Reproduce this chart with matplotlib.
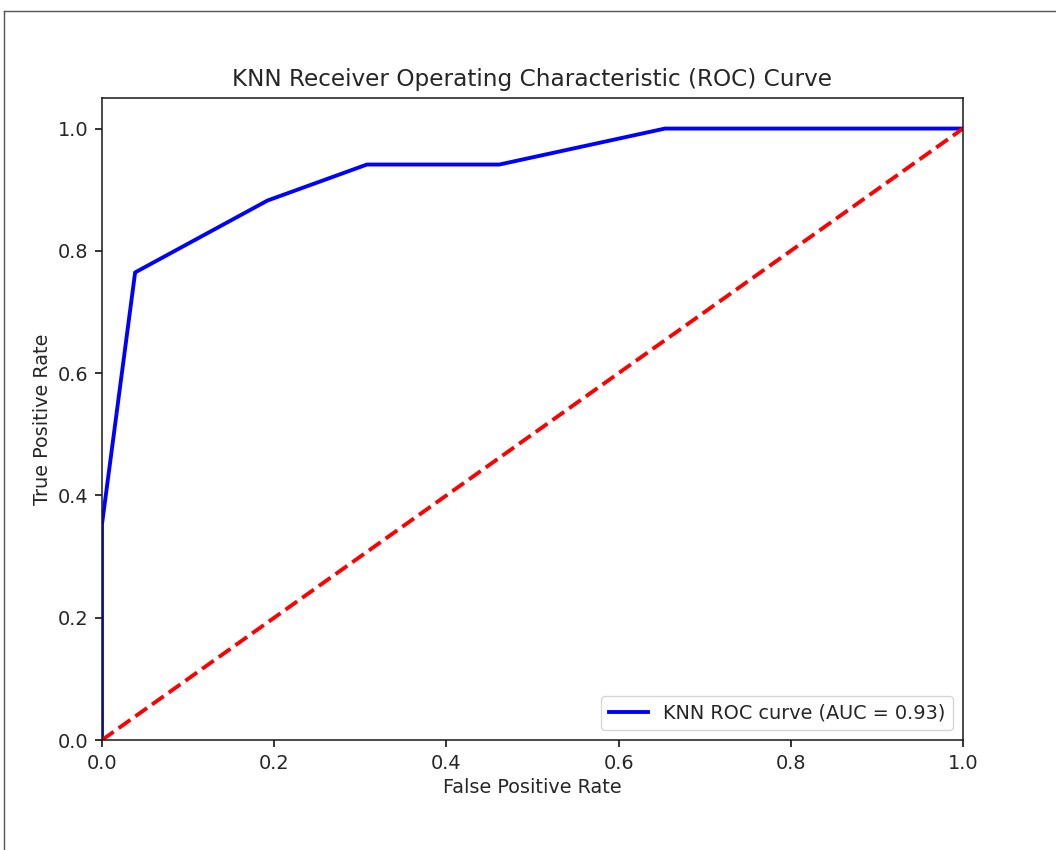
import matplotlib
matplotlib.use("Agg")
import matplotlib.pyplot as plt
from matplotlib.lines import Line2D

fpr = [0.0, 0.0, 1/26, 5/26, 8/26, 12/26, 17/26, 1.0]
tpr = [0.0, 6/17, 13/17, 15/17, 16/17, 16/17, 1.0, 1.0]
diag_x = [0, 1]
diag_y = [0, 1]
roc_auc = 0.93

W, H = 1056, 850
s = 1.39
txt = '#262626'
plt.rcParams['text.color'] = txt
plt.rcParams['axes.labelcolor'] = txt
plt.rcParams['xtick.labelcolor'] = txt
plt.rcParams['ytick.labelcolor'] = txt
plt.rcParams['axes.edgecolor'] = '#1a1a1a'

fig = plt.figure(figsize=(W/100, H/100), dpi=100)
ax = fig.add_axes([102/W, 1-740/H, (963-102)/W, (740-98)/H])
ax.plot(fpr, tpr, color='blue', lw=2*s, label=f'KNN ROC curve (AUC = {roc_auc:.2f})')
ax.plot(diag_x, diag_y, color='red', lw=2*s, linestyle='--')
ax.set_xlim(0.0, 1.0)
ax.set_ylim(0.0, 1.05)
ax.set_xlabel('False Positive Rate', fontsize=10*s)
ax.set_ylabel('True Positive Rate', fontsize=10*s)
ax.set_title('KNN Receiver Operating Characteristic (ROC) Curve', fontsize=12*s, pad=6*s)
ax.tick_params(labelsize=10*s, width=0.8*s, length=3.5*s, pad=3.5*s)
for sp in ax.spines.values():
    sp.set_linewidth(0.8*s)
ax.legend(loc='lower right', fontsize=10*s)

fig.add_artist(Line2D([3.5/W, 1.0], [1-10.5/H, 1-10.5/H], transform=fig.transFigure, color='#555555', lw=1))
fig.add_artist(Line2D([3.5/W, 3.5/W], [0, 1-10.5/H], transform=fig.transFigure, color='#555555', lw=1))

fig.savefig('out.png', dpi=100)
